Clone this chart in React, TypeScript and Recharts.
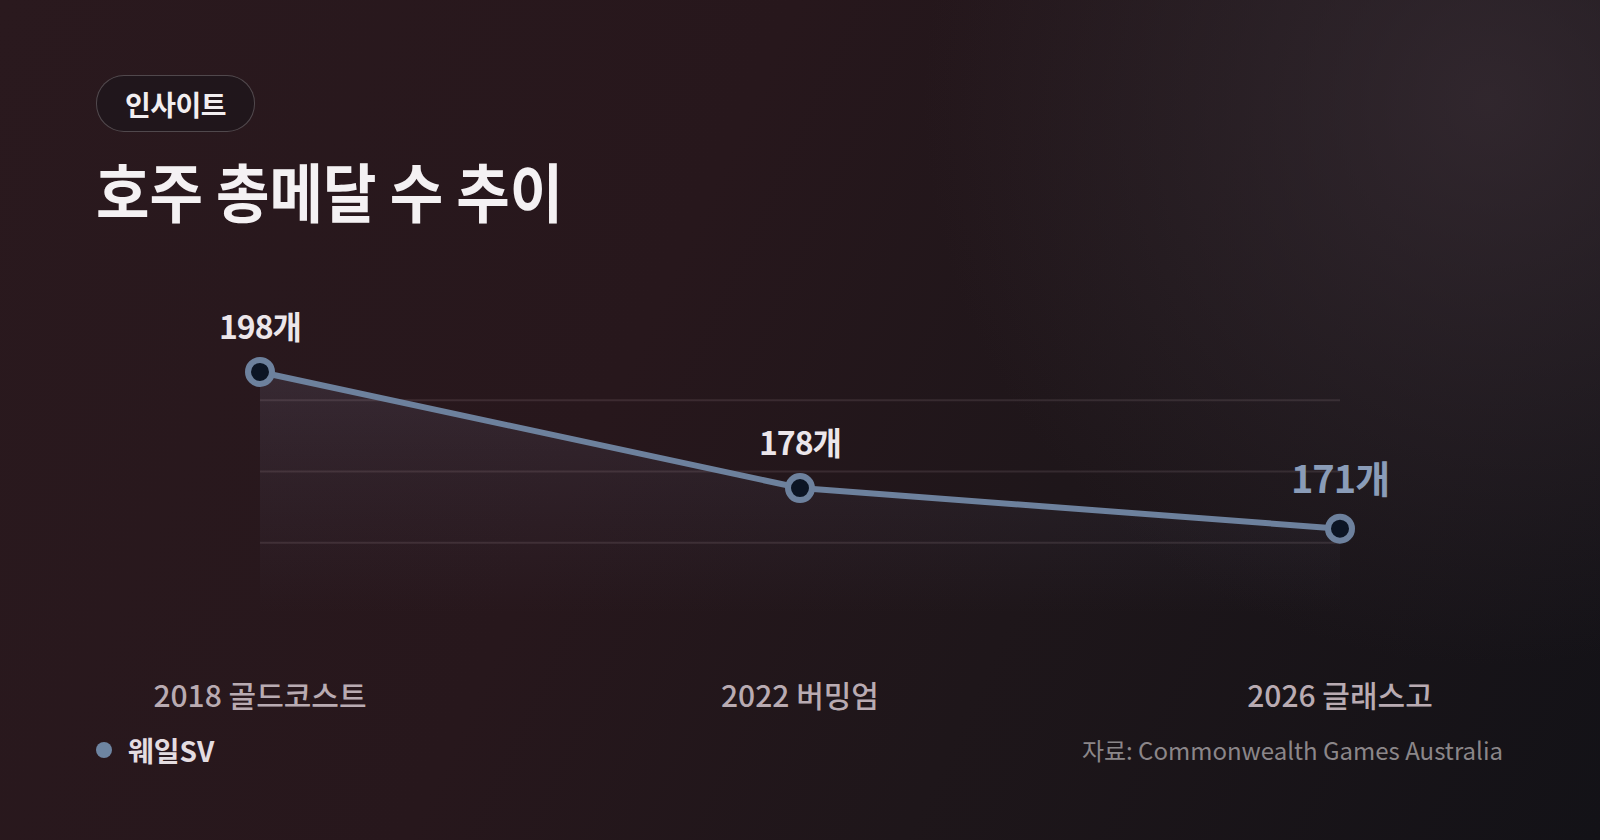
import React from 'react';
import { ComposedChart, Area, Line, XAxis, YAxis, ReferenceLine, LabelList } from 'recharts';

const GAMES = ['2018 골드코스트', '2022 버밍엄', '2026 글래스고'];
const MEDALS = [198, 178, 171];
const GRID_VALUES = [168.575, 180.85, 193.125];
const Y_DOMAIN = [156.3, 205.4];
const UNIT = '개';
const SERIES_NAME = '웨일SV';

const FONT = '"Noto Sans CJK KR", "Noto Sans", sans-serif';
const LINE_COLOR = '#6d819d';

const data = GAMES.map((name, i) => ({ name, medals: MEDALS[i] }));

const XTick = (props: any) => {
    const { x, y, payload } = props;
    return (
        <text x={x} y={y + 93} textAnchor="middle" fill="#b9abb2" fontSize={30} fontWeight={500} fontFamily={FONT}>
            {payload.value}
        </text>
    );
};

const ValueLabel = (props: any) => {
    const x = props.x ?? props.viewBox?.x;
    const y = props.y ?? props.viewBox?.y;
    const last = props.index === MEDALS.length - 1;
    return (
        <text
            x={x}
            y={last ? y - 36 : y - 33}
            textAnchor="middle"
            fill={last ? '#8a9cb8' : '#ece6ea'}
            fontSize={last ? 38 : 32}
            fontWeight={700}
            fontFamily={FONT}
            letterSpacing={-1}
        >
            {props.value}
            {UNIT}
        </text>
    );
};

const App: React.FC = () => {
    return (
        <div
            style={{
                position: 'absolute',
                left: 0,
                top: 0,
                width: 1600,
                height: 840,
                overflow: 'hidden',
                fontFamily: FONT,
                background:
                    'radial-gradient(circle at 93% 12%, rgba(58,46,54,0.7) 0%, rgba(58,46,54,0) 34%), linear-gradient(115deg, #2a191e 0%, #27171c 40%, #1e161a 65%, #131217 100%)',
            }}
        >
            {/* badge */}
            <div
                style={{
                    position: 'absolute',
                    left: 96,
                    top: 75,
                    width: 157,
                    height: 55,
                    borderRadius: 28,
                    border: '1px solid rgba(255,255,255,0.22)',
                    background: 'rgba(28,22,27,0.7)',
                    color: '#f2eef0',
                    fontSize: 28,
                    fontWeight: 700,
                    display: 'flex',
                    alignItems: 'center',
                    justifyContent: 'center',
                    letterSpacing: -0.5,
                }}
            >
                인사이트
            </div>

            {/* title */}
            <div
                style={{
                    position: 'absolute',
                    left: 96,
                    top: 149,
                    fontSize: 64,
                    lineHeight: '80px',
                    fontWeight: 700,
                    color: '#f4f1f3',
                    whiteSpace: 'nowrap',
                    transform: 'scaleX(0.908)',
                    transformOrigin: 'left center',
                }}
            >
                호주 총메달 수 추이
            </div>

            <div style={{ position: 'absolute', left: 0, top: 0 }}>
                <ComposedChart
                    width={1600}
                    height={840}
                    data={data}
                    margin={{ top: 329, right: 260, bottom: 196, left: 260 }}
                >
                    <defs>
                        <linearGradient id="areaFade" x1="0" y1="0" x2="0" y2="1">
                            <stop offset="0%" stopColor="#80809f" stopOpacity={0.28} />
                            <stop offset="70%" stopColor="#6a6a88" stopOpacity={0.1} />
                            <stop offset="100%" stopColor="#6a6a88" stopOpacity={0} />
                        </linearGradient>
                    </defs>
                    <XAxis
                        dataKey="name"
                        scale="point"
                        padding={{ left: 0, right: 0 }}
                        axisLine={false}
                        tickLine={false}
                        tickSize={0}
                        tickMargin={0}
                        interval={0}
                        tick={<XTick />}
                    />
                    <YAxis hide domain={Y_DOMAIN} type="number" allowDataOverflow />
                    <Area
                        type="linear"
                        dataKey="medals"
                        stroke="none"
                        fill="url(#areaFade)"
                        isAnimationActive={false}
                        dot={false}
                        activeDot={false}
                    />
                    {GRID_VALUES.map((v) => (
                        <ReferenceLine key={v} y={v} stroke="rgba(255,225,235,0.1)" strokeWidth={2} />
                    ))}
                    <Line
                        type="linear"
                        dataKey="medals"
                        stroke={LINE_COLOR}
                        strokeWidth={6}
                        dot={{ r: 12, fill: '#0c1524', stroke: LINE_COLOR, strokeWidth: 6 }}
                        activeDot={false}
                        isAnimationActive={false}
                    >
                        <LabelList dataKey="medals" content={<ValueLabel />} />
                    </Line>
                </ComposedChart>
            </div>

            {/* legend */}
            <div style={{ position: 'absolute', left: 96, top: 731, display: 'flex', alignItems: 'center', height: 38 }}>
                <span
                    style={{
                        display: 'inline-block',
                        width: 16,
                        height: 16,
                        borderRadius: 8,
                        background: '#6e85a2',
                        marginRight: 16,
                    }}
                />
                <span style={{ color: '#e4dde1', fontSize: 28, fontWeight: 700 }}>{SERIES_NAME}</span>
            </div>

            {/* source */}
            <div
                style={{
                    position: 'absolute',
                    right: 97,
                    top: 732,
                    height: 36,
                    lineHeight: '36px',
                    color: '#8b8689',
                    fontSize: 24,
                    whiteSpace: 'nowrap',
                }}
            >
                자료: Commonwealth Games Australia
            </div>
        </div>
    );
};

export default App;
